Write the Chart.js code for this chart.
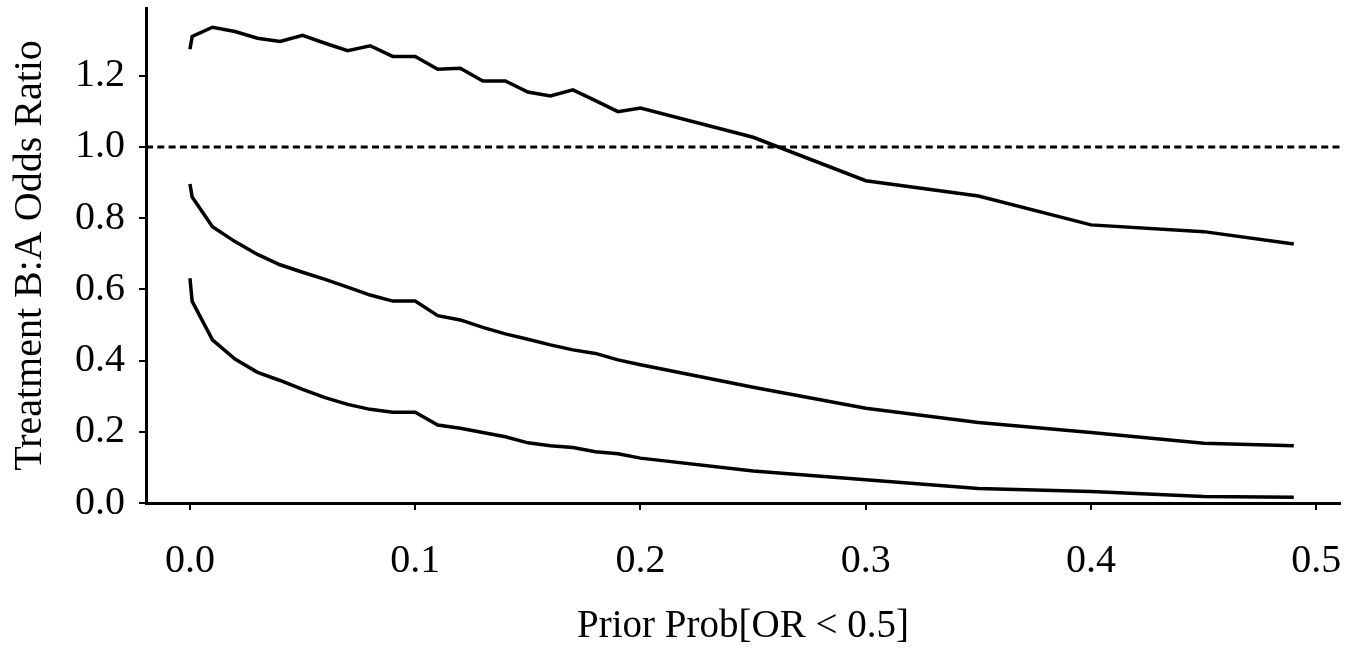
<!DOCTYPE html>
<html>
<head>
<meta charset="utf-8">
<script src="https://cdn.jsdelivr.net/npm/chart.js@4.4.1/dist/chart.umd.min.js"></script>
<style>
  html, body { margin: 0; padding: 0; background: #fff; }
  #wrap { width: 1359px; height: 650px; }
</style>
</head>
<body>
<div id="wrap"><canvas id="oddsChart"></canvas></div>
<script>
// prior probability values along the x axis
const priorProb = [0, 0.001, 0.01, 0.02, 0.03, 0.04, 0.05, 0.06, 0.07, 0.08, 0.09, 0.1,
    0.11, 0.12, 0.13, 0.14, 0.15, 0.16, 0.17, 0.18, 0.19, 0.2, 0.25, 0.3, 0.35, 0.4, 0.45, 0.49];

const upperOR = [1.274, 1.310, 1.336, 1.324, 1.305, 1.296, 1.313, 1.291, 1.270, 1.284, 1.254, 1.254,
    1.218, 1.221, 1.185, 1.185, 1.154, 1.143, 1.160, 1.130, 1.099, 1.109, 1.027, 0.905, 0.862, 0.781, 0.762, 0.727];

const middleOR = [0.896, 0.859, 0.776, 0.734, 0.698, 0.669, 0.648, 0.628, 0.606, 0.584, 0.567, 0.567,
    0.526, 0.514, 0.493, 0.475, 0.460, 0.444, 0.430, 0.420, 0.402, 0.388, 0.325, 0.266, 0.226, 0.198, 0.168, 0.161];

const lowerOR = [0.631, 0.566, 0.458, 0.404, 0.367, 0.344, 0.319, 0.296, 0.277, 0.263, 0.255, 0.255,
    0.219, 0.210, 0.198, 0.186, 0.169, 0.161, 0.156, 0.144, 0.138, 0.126, 0.090, 0.065, 0.041, 0.032, 0.018, 0.016];

const xTicks = [0, 0.1, 0.2, 0.3, 0.4, 0.5];
const yTicks = [0, 0.2, 0.4, 0.6, 0.8, 1.0, 1.2];
const refLine = 1.0;

const X_MIN = -0.0195, X_MAX = 0.5105;
const Y_MIN = 0, Y_MAX = 1.39;

const font = { family: '"Liberation Serif", "Times New Roman", serif', size: 40 };

function toPoints(ys) {
    return priorProb.map((x, i) => ({ x: x, y: ys[i] }));
}

function curve(ys) {
    return {
        data: toPoints(ys),
        borderColor: '#000',
        borderWidth: 3.5,
        pointRadius: 0,
        tension: 0,
        fill: false
    };
}

const ctx = document.getElementById('oddsChart').getContext('2d');
new Chart(ctx, {
    type: 'line',
    data: {
        datasets: [
            curve(upperOR),
            curve(middleOR),
            curve(lowerOR),
            {
                data: [{ x: X_MIN, y: refLine }, { x: X_MAX, y: refLine }],
                borderColor: '#000',
                borderWidth: 3,
                borderDash: [7, 4.3],
                pointRadius: 0,
                fill: false
            }
        ]
    },
    options: {
        responsive: true,
        maintainAspectRatio: false,
        animation: false,
        layout: { padding: { top: 8, right: 19, left: 0, bottom: 0 } },
        plugins: {
            legend: { display: false },
            tooltip: { enabled: false }
        },
        scales: {
            x: {
                type: 'linear',
                min: X_MIN,
                max: X_MAX,
                afterBuildTicks: scale => { scale.ticks = xTicks.map(v => ({ value: v })); },
                afterFit: scale => {
                    scale.height = 147;
                    scale.paddingLeft = 0;
                    scale.paddingRight = 0;
                },
                border: { display: true, color: '#000', width: 3 },
                grid: { drawOnChartArea: false, drawTicks: true, tickLength: 7, color: '#000', lineWidth: 2 },
                ticks: {
                    color: '#000',
                    font: font,
                    padding: 27,
                    maxRotation: 0,
                    callback: v => v.toFixed(1)
                },
                title: {
                    display: true,
                    text: 'Prior Prob[OR < 0.5]',
                    color: '#000',
                    font: { family: font.family, size: 39 },
                    padding: { top: 10, bottom: 0 }
                }
            },
            y: {
                type: 'linear',
                min: Y_MIN,
                max: Y_MAX,
                afterBuildTicks: scale => { scale.ticks = yTicks.map(v => ({ value: v })); },
                afterFit: scale => {
                    scale.width = 146;
                    scale.paddingTop = 0;
                    scale.paddingBottom = 0;
                },
                border: { display: true, color: '#000', width: 3 },
                grid: { drawOnChartArea: false, drawTicks: true, tickLength: 7, color: '#000', lineWidth: 2 },
                ticks: {
                    color: '#000',
                    font: font,
                    padding: 14,
                    callback: v => v.toFixed(1)
                },
                title: {
                    display: true,
                    text: 'Treatment B:A Odds Ratio',
                    color: '#000',
                    font: font,
                    padding: { top: 6, bottom: 0 }
                }
            }
        }
    }
});
</script>
</body>
</html>
